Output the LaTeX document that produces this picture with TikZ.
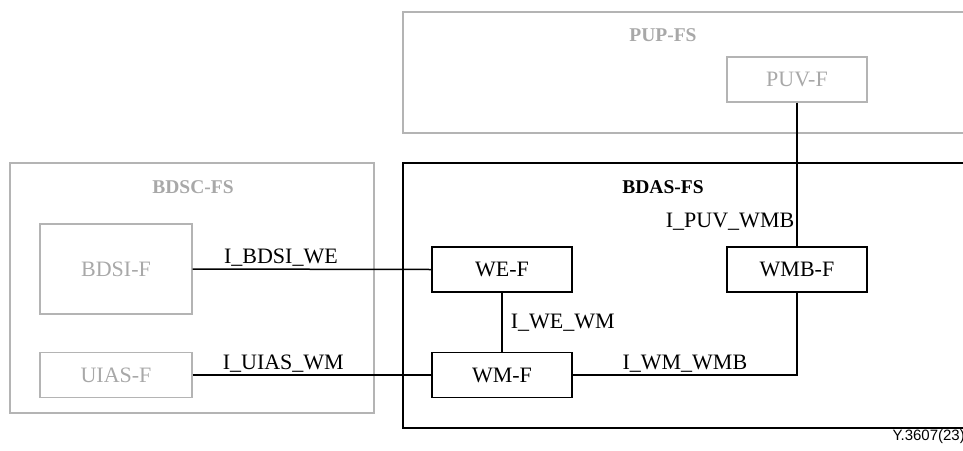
\documentclass[tikz,border=0pt]{standalone}
\usepackage{fontspec}
\setmainfont{Liberation Serif}
\newfontfamily\capfont{Liberation Sans}
\definecolor{lg}{HTML}{B4B4B4}
\definecolor{lgt}{HTML}{A8A8A8}
\begin{document}
\begin{tikzpicture}[x=1pt,y=-1pt,
  fbox/.style={draw=black, line width=1.5pt, minimum width=140pt, minimum height=45pt, inner sep=0pt, font=\fontsize{22}{26}\selectfont},
  gbox/.style={fbox, draw=lg, text=lgt, line width=1.3pt},
  bframe/.style={draw=black, line width=1.5pt, inner sep=0pt},
  gframe/.style={draw=lg, line width=1.3pt, inner sep=0pt},
  glabel/.style={font=\fontsize{19.5}{22}\selectfont\bfseries, text=lgt},
  blabel/.style={font=\fontsize{19.5}{22}\selectfont\bfseries},
  ilabel/.style={font=\fontsize{22}{26}\selectfont, inner sep=2pt},
  conn/.style={line width=1.5pt}]
\useasboundingbox (0,0) rectangle (963,450);
\clip (0,0) rectangle (963,450);
% containers
\node[gframe, minimum width=580pt, minimum height=121pt] (pupfs) at (693,72.5) {};
\node[gframe, minimum width=364pt, minimum height=250pt] (bdscfs) at (192,288) {};
\node[bframe, minimum width=580pt, minimum height=265pt] (bdasfs) at (693,295.5) {};
\node[glabel] (pupfsl) at (663,35) {PUP-FS};
\node[glabel] (bdscfsl) at (193,187) {BDSC-FS};
\node[blabel] (bdasfsl) at (663,187) {BDAS-FS};
% functions
\node[gbox] (puvf) at (797,79.5) {PUV-F};
\node[gbox, minimum width=152pt, minimum height=90pt] (bdsif) at (116,269) {BDSI-F};
\node[gbox, minimum width=152pt] (uiasf) at (116,375) {UIAS-F};
\node[fbox] (wef) at (502,269.5) {WE-F};
\node[fbox] (wmf) at (502,375) {WM-F};
\node[fbox] (wmbf) at (797,269.5) {WMB-F};
% connectors
\draw[conn] (bdsif.east) -- node[ilabel, above, pos=0.37] (l1) {I\_BDSI\_WE} (wef.west);
\draw[conn] (uiasf.east) -- node[ilabel, above, pos=0.38] (l2) {I\_UIAS\_WM} (wmf.west);
\draw[conn] (wef.south) -- node[ilabel, right, xshift=6pt] (l3) {I\_WE\_WM} (wmf.north);
\draw[conn] (wmf.east) -- node[ilabel, above] (l4) {I\_WM\_WMB} (wmf.east -| wmbf.south) -- (wmbf.south);
\draw[conn] (puvf.south) -- node[ilabel, left, pos=0.83] (l5) {I\_PUV\_WMB} (wmbf.north);
% caption
\node[anchor=east, font=\capfont\fontsize{15}{17}\selectfont, inner sep=0pt] (cap) at (965,437) {Y.3607(23)};
\end{tikzpicture}
\end{document}
